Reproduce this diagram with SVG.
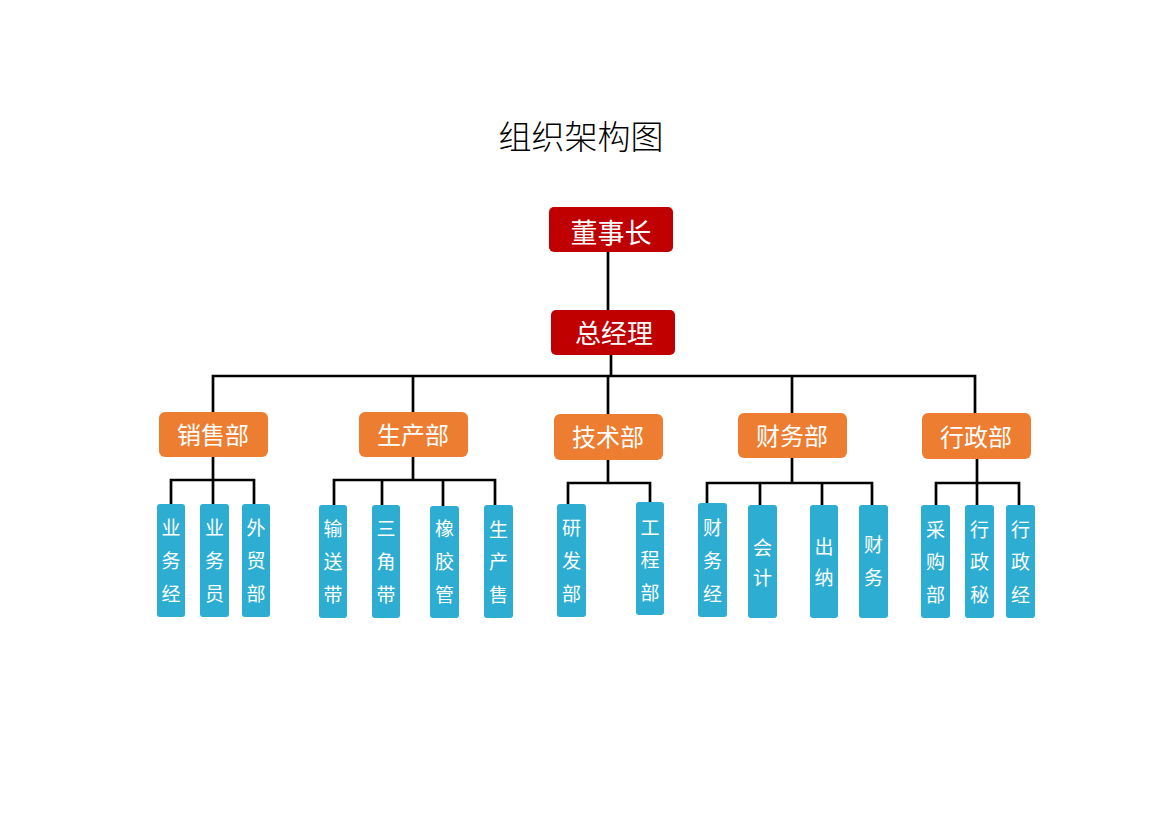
<svg xmlns="http://www.w3.org/2000/svg" width="1170" height="827" viewBox="0 0 1170 827">
<style>
.t{font-family:"Noto Sans CJK SC","Liberation Sans",sans-serif;fill:#fff;text-anchor:middle}
.top{fill:#C00000}
.dep{fill:#ED7D31}
.sub{fill:#2EADD2}
.tt{font-size:27px}
.dt{font-size:24px}
.st{font-size:19px}
.ln{fill:none;stroke:#000;stroke-width:2.7}
</style>
<rect width="1170" height="827" fill="#fff"/>
<text x="581" y="149" font-family="Noto Sans CJK SC, sans-serif" font-weight="300" font-size="33" text-anchor="middle" fill="#000">组织架构图</text>
<g id="connectors" class="ln">
<path d="M608 252V310"/>
<path d="M611 355V376"/>
<path d="M213 412V376H975V413"/>
<path d="M413 376V412M608 376V414M792 376V413"/>
<path d="M213 457V480M171 504V480H254V504M213 480V504"/>
<path d="M413 457V480M334 505V480H495V505M382 480V505M443 480V506"/>
<path d="M608 460V483M568 504V483H650V502"/>
<path d="M792 458V483M707 503V483H872V505M760 483V505M822 483V505"/>
<path d="M977 459V505M936 505V483H1019V505"/>
</g>
<g id="n-dongshizhang"><rect class="top" x="549" y="207" width="124" height="45" rx="5"/><text class="t tt" x="611" y="243">董事长</text></g>
<g id="n-zongjingli"><rect class="top" x="551" y="310" width="124" height="45" rx="5"/><text class="t tt" x="614" y="343" style="font-size:26px">总经理</text></g>
<g id="n-xiaoshou"><rect class="dep" x="159" y="412" width="109" height="45" rx="6"/><text class="t dt" x="213" y="444">销售部</text></g>
<g id="n-shengchan"><rect class="dep" x="359" y="412" width="109" height="45" rx="6"/><text class="t dt" x="413" y="444">生产部</text></g>
<g id="n-jishu"><rect class="dep" x="554" y="414" width="109" height="46" rx="6"/><text class="t dt" x="608" y="446">技术部</text></g>
<g id="n-caiwu"><rect class="dep" x="738" y="413" width="109" height="45" rx="6"/><text class="t dt" x="792" y="445">财务部</text></g>
<g id="n-xingzheng"><rect class="dep" x="922" y="413" width="109" height="46" rx="6"/><text class="t dt" x="976" y="446">行政部</text></g>
<g id="n-ywj"><rect class="sub" x="157" y="504" width="28" height="113" rx="3"/><text class="t st"><tspan x="171" y="535">业</tspan><tspan x="171" y="568">务</tspan><tspan x="171" y="601">经</tspan></text></g>
<g id="n-ywy"><rect class="sub" x="200" y="504" width="29" height="113" rx="3"/><text class="t st"><tspan x="214.5" y="535">业</tspan><tspan x="214.5" y="568">务</tspan><tspan x="214.5" y="601">员</tspan></text></g>
<g id="n-wmb"><rect class="sub" x="242" y="504" width="28" height="113" rx="3"/><text class="t st"><tspan x="256" y="535">外</tspan><tspan x="256" y="568">贸</tspan><tspan x="256" y="601">部</tspan></text></g>
<g id="n-ssd"><rect class="sub" x="319" y="505" width="28" height="113" rx="3"/><text class="t st"><tspan x="333" y="536">输</tspan><tspan x="333" y="569">送</tspan><tspan x="333" y="602">带</tspan></text></g>
<g id="n-sjd"><rect class="sub" x="372" y="505" width="28" height="113" rx="3"/><text class="t st"><tspan x="386" y="536">三</tspan><tspan x="386" y="569">角</tspan><tspan x="386" y="602">带</tspan></text></g>
<g id="n-xjg"><rect class="sub" x="430" y="506" width="29" height="112" rx="3"/><text class="t st"><tspan x="444.5" y="536">橡</tspan><tspan x="444.5" y="569">胶</tspan><tspan x="444.5" y="602">管</tspan></text></g>
<g id="n-scs"><rect class="sub" x="484" y="505" width="29" height="113" rx="3"/><text class="t st"><tspan x="498.5" y="537">生</tspan><tspan x="498.5" y="569">产</tspan><tspan x="498.5" y="602">售</tspan></text></g>
<g id="n-yfb"><rect class="sub" x="557" y="504" width="29" height="113" rx="3"/><text class="t st"><tspan x="571.5" y="535">研</tspan><tspan x="571.5" y="568">发</tspan><tspan x="571.5" y="601">部</tspan></text></g>
<g id="n-gcb"><rect class="sub" x="636" y="502" width="28" height="113" rx="3"/><text class="t st"><tspan x="650" y="535">工</tspan><tspan x="650" y="567">程</tspan><tspan x="650" y="600">部</tspan></text></g>
<g id="n-cwj"><rect class="sub" x="698" y="503" width="29" height="114" rx="3"/><text class="t st"><tspan x="712.5" y="535">财</tspan><tspan x="712.5" y="568">务</tspan><tspan x="712.5" y="601">经</tspan></text></g>
<g id="n-kj"><rect class="sub" x="748" y="505" width="29" height="113" rx="3"/><text class="t st"><tspan x="762.5" y="555">会</tspan><tspan x="762.5" y="585">计</tspan></text></g>
<g id="n-cn"><rect class="sub" x="810" y="505" width="28" height="113" rx="3"/><text class="t st"><tspan x="824" y="554">出</tspan><tspan x="824" y="585">纳</tspan></text></g>
<g id="n-cw"><rect class="sub" x="859" y="505" width="29" height="113" rx="3"/><text class="t st"><tspan x="873.5" y="552">财</tspan><tspan x="873.5" y="585">务</tspan></text></g>
<g id="n-cgb"><rect class="sub" x="921" y="505" width="29" height="113" rx="3"/><text class="t st"><tspan x="935.5" y="537">采</tspan><tspan x="935.5" y="569">购</tspan><tspan x="935.5" y="602">部</tspan></text></g>
<g id="n-xzm"><rect class="sub" x="965" y="505" width="29" height="113" rx="3"/><text class="t st"><tspan x="979.5" y="537">行</tspan><tspan x="979.5" y="569">政</tspan><tspan x="979.5" y="602">秘</tspan></text></g>
<g id="n-xzj"><rect class="sub" x="1006" y="505" width="29" height="113" rx="3"/><text class="t st"><tspan x="1020.5" y="537">行</tspan><tspan x="1020.5" y="569">政</tspan><tspan x="1020.5" y="602">经</tspan></text></g>
</svg>
